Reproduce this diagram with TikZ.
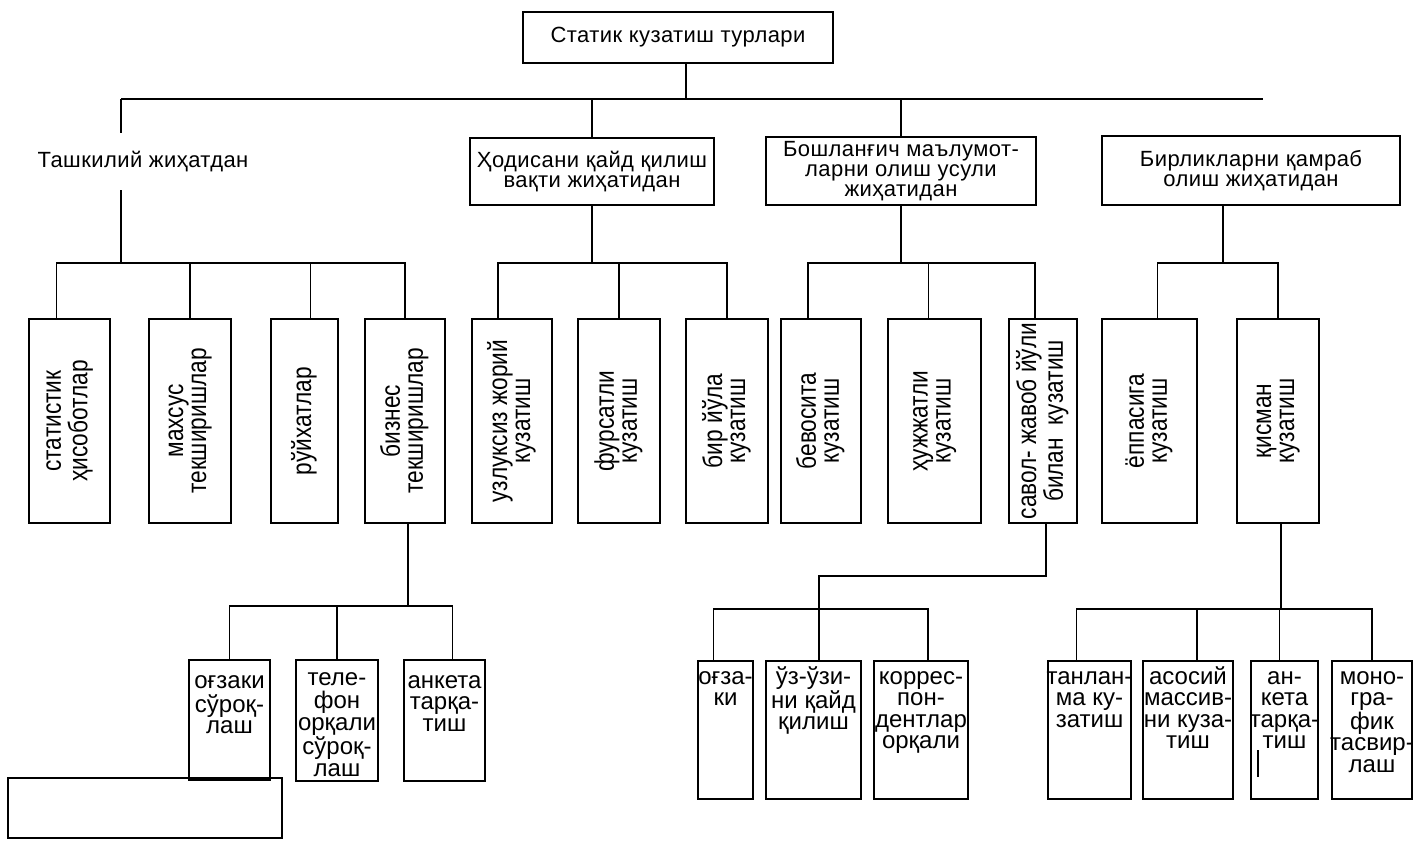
\documentclass[tikz,border=0pt]{standalone}
\usepackage{graphicx}
\usepackage{fontspec}
\setmainfont{Liberation Sans}
\newfontfamily\headfont[LetterSpace=2]{Liberation Sans}
\newfontfamily\vertfont[FakeStretch=0.84]{Liberation Sans}
\def\vlabel#1{\rotatebox{90}{\begin{tabular}{@{}c@{}}#1\end{tabular}}}
\def\ltab#1{\makebox[0pt]{\begin{tabular}[t]{@{}c@{}}#1\end{tabular}}}

\begin{document}
\begin{tikzpicture}[x=1pt, y=-1pt, line width=1.8pt,
		box/.style={draw, line width=2pt, inner sep=0pt, anchor=north west},
		hbox/.style={box, align=center, font=\headfont\fontsize{22}{20}\selectfont},
		vbox/.style={box, minimum height=204pt, font=\vertfont\fontsize{27}{23}\selectfont},
		lbox/.style={box, font=\fontsize{24}{21.5}\selectfont}]
			%%%%% START %%%%%
			\useasboundingbox (0,0) rectangle (1415,843);
			
			\node[hbox, minimum width=310pt, minimum height=51pt] (top) at (522,11) {Статик кузатиш турлари};
			
			\node[font=\headfont\fontsize{22}{20}\selectfont] (org) at (143,162) {Ташкилий жиҳатдан};
			\node[hbox, minimum width=244pt, minimum height=67pt] (time) at (469,137) {Ҳодисани қайд қилиш\\вақти жиҳатидан};
			\node[hbox, minimum width=270pt, minimum height=68pt] (src) at (765,136) {Бошланғич маълумот-\\ларни олиш усули\\жиҳатидан};
			\node[hbox, minimum width=298pt, minimum height=69pt] (unit) at (1101,135) {Бирликларни қамраб\\олиш жиҳатидан};
			
			\node[vbox, minimum width=81pt] (b1) at (28,318) {\vlabel{статистик\\ҳисоботлар}};
			\node[vbox, minimum width=82pt] (b2) at (148,318) {\vlabel{махсус\\текширишлар}};
			\node[vbox, minimum width=67pt] (b3) at (270,318) {\vlabel{рўйхатлар}};
			\node[vbox, minimum width=80pt] (b4) at (364,318) {\vlabel{бизнес\\текширишлар}};
			\node[vbox, minimum width=80pt] (b5) at (471,318) {\vlabel{узлуксиз жорий\\кузатиш}};
			\node[vbox, minimum width=82pt] (b6) at (577,318) {\vlabel{фурсатли\\кузатиш}};
			\node[vbox, minimum width=82pt] (b7) at (685,318) {\vlabel{бир йўла\\кузатиш}};
			\node[vbox, minimum width=80pt] (b8) at (780,318) {\vlabel{бевосита\\кузатиш}};
			\node[vbox, minimum width=93pt] (b9) at (887,318) {\vlabel{ҳужжатли\\кузатиш}};
			\node[vbox, minimum width=68pt] (b10) at (1008,318) {\vlabel{савол- жавоб йўли\\билан \ кузатиш}};
			\node[vbox, minimum width=95pt] (b11) at (1101,318) {\vlabel{ёппасига\\кузатиш}};
			\node[vbox, minimum width=82pt] (b12) at (1236,318) {\vlabel{қисман\\кузатиш}};
			
			\node[lbox, minimum width=81pt, text height=28pt, text depth=92pt] (c1) at (188,659) {\ltab{оғзаки\\сўроқ-\\лаш}};
			\node[lbox, minimum width=82pt, text height=25pt, text depth=96pt] (c2) at (295,659) {\ltab{теле-\\фон\\орқали\\сўроқ-\\лаш}};
			\node[lbox, minimum width=81pt, text height=28pt, text depth=93pt] (c3) at (403,659) {\ltab{анкета\\тарқа-\\тиш}};
			\node[box, minimum width=274pt, minimum height=60pt] (blank) at (7,777) {};
			
			\node[lbox, minimum width=55pt, text height=23pt, text depth=115pt] (d1) at (697,660) {\ltab{оғза-\\ки}};
			\node[lbox, minimum width=95pt, text height=23pt, text depth=115pt] (d2) at (765,660) {\ltab{ўз-ўзи-\\ни қайд\\қилиш}};
			\node[lbox, minimum width=94pt, text height=23pt, text depth=115pt] (d3) at (873,660) {\ltab{коррес-\\пон-\\дентлар\\орқали}};
			
			\node[lbox, minimum width=83pt, text height=23pt, text depth=115pt] (e1) at (1047,660) {\ltab{танлан-\\ма ку-\\затиш}};
			\node[lbox, minimum width=90pt, text height=23pt, text depth=115pt] (e2) at (1142,660) {\ltab{асосий\\массив-\\ни куза-\\тиш}};
			\node[lbox, minimum width=67pt, text height=23pt, text depth=115pt] (e3) at (1250,660) {\ltab{ан-\\кета\\тарқа-\\тиш}};
			\node[lbox, minimum width=80pt, text height=23pt, text depth=115pt] (e4) at (1331,660) {\ltab{моно-\\гра-\\фик\\тасвир-\\лаш}};
			
			% main bus
			\coordinate (bus-w) at (121,99);
			\coordinate (bus-e) at (1263,99);
			\coordinate (org-in) at (121,133);
			\coordinate (org-out) at (121,190);
			\draw (bus-w) -- (bus-e);
			\draw ([xshift=8pt]top.south) -- ([xshift=8pt]top.south |- bus-w);
			\draw (bus-w) -- (org-in);
			\draw (time.north) -- (time.north |- bus-w);
			\draw (src.north) -- (src.north |- bus-w);
			
			\coordinate (bus1) at (121,263);
			\draw (org-out) -- (bus1);
			\draw ([xshift=-13pt]b1.north) |- (b4.north |- bus1) -- (b4.north);
			\draw (b2.north) -- (b2.north |- bus1);
			\draw ([xshift=6pt]b3.north) -- ([xshift=6pt]b3.north |- bus1);
			
			\draw (time.south) -- (time.south |- bus1);
			\draw ([xshift=-14pt]b5.north) |- (b7.north |- bus1) -- (b7.north);
			\draw (b6.north) -- (b6.north |- bus1);
			
			\draw (src.south) -- (src.south |- bus1);
			\draw ([xshift=-13pt]b8.north) |- ([xshift=-8pt]b10.north |- bus1) -- ([xshift=-8pt]b10.north);
			\draw ([xshift=-6pt]b9.north) -- ([xshift=-6pt]b9.north |- bus1);
			
			\draw ([xshift=-28pt]unit.south) -- ([xshift=-28pt]unit.south |- bus1);
			\draw ([xshift=8pt]b11.north) |- (b12.north |- bus1) -- (b12.north);
			
			% lower level
			\coordinate (bus2) at (0,606);
			\draw ([xshift=3pt]b4.south) -- ([xshift=3pt]b4.south |- bus2);
			\draw (c1.north) |- ([xshift=8pt]c3.north |- bus2) -- ([xshift=8pt]c3.north);
			\draw (c2.north) -- (c2.north |- bus2);
			
			\coordinate (hook) at (819,576);
			\coordinate (bus3) at (0,609);
			\draw ([xshift=3pt]b10.south) |- (hook) -- (hook |- d2.north);
			\draw ([xshift=-12pt]d1.north) |- ([xshift=7pt]d3.north |- bus3) -- ([xshift=7pt]d3.north);
			
			\draw ([xshift=3pt]b12.south) -- ([xshift=3pt]b12.south |- bus3);
			\draw ([xshift=-13pt]e1.north) |- (e4.north |- bus3) -- (e4.north);
			\draw ([xshift=9pt]e2.north) -- ([xshift=9pt]e2.north |- bus3);
			\draw ([xshift=-5pt]e3.north) -- ([xshift=-5pt]e3.north |- bus3);
			
			\draw[line width=1.5pt] (1258,750) -- (1258,777);
			%%%%% END %%%%%
\end{tikzpicture}
\end{document}
